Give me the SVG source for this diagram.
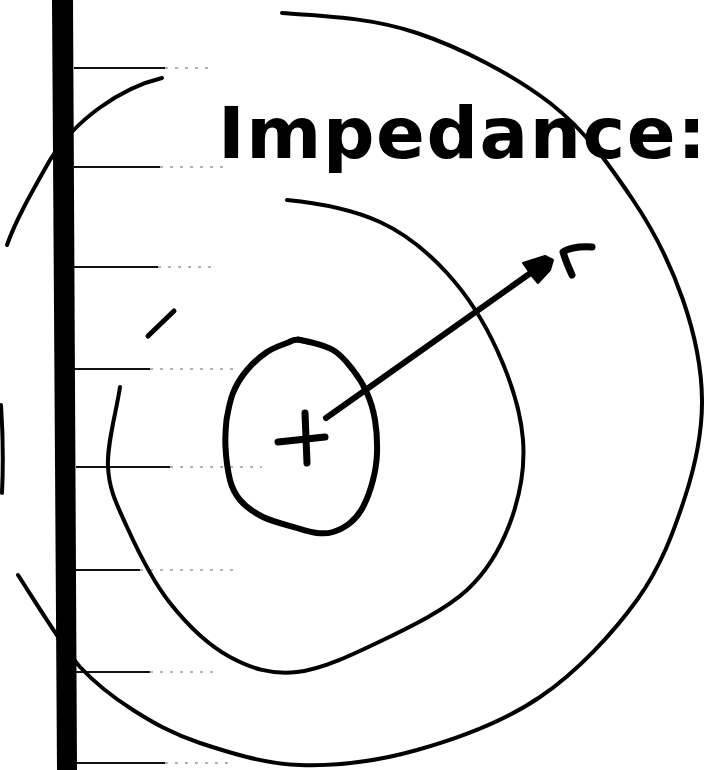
<svg xmlns="http://www.w3.org/2000/svg" width="706" height="770" viewBox="0 0 706 770">
<style>
.ink{fill:none;stroke:#000;stroke-linecap:round;stroke-linejoin:round}
.rule{stroke:#111;stroke-width:2}
.fade{stroke:#999;stroke-width:1.5;stroke-dasharray:3 7}
.label{font-family:"DejaVu Sans","Liberation Sans",sans-serif;font-weight:bold;fill:#000}
</style>
<rect width="706" height="770" fill="#fff"/>
<g id="ruled-lines">
<path class="rule" d="M74,68H165M74,167H160M74,267H158M74,369H150M76,467H170M76,570H140M76,672H150M77,763H165"/>
<path class="fade" d="M165,68H210M160,167H225M158,267H212M150,369H240M170,467H262M140,570H238M150,672H215M165,763H230"/>
</g>
<g id="margin-bar">
<polygon points="52,0 73,0 77,770 57,770" fill="#000"/>
</g>
<g id="outer-circle" class="ink" stroke-width="4">
<path d="M282,13 C327,16 372.3,18 417,33 C461.7,48 514,75.2 550,103 C586,130.8 610.8,167.2 633,200 C655.2,232.8 671.5,266.7 683,300 C694.5,333.3 701.7,367.2 702,400 C702.3,432.8 695.8,463.7 685,497 C674.2,530.3 661.2,566.7 637,600 C612.8,633.3 577.2,672 540,697 C503.3,722 457,738.7 417,750 C377,761.3 336.2,766.2 300,765 C263.8,763.8 227.8,752.2 200,743 C172.2,733.8 153,722.7 133,710 C113,697.3 96,684 80,667 C65,650 38,606 18,575"/>
<path d="M162,78 C120,88 75,120 50,160 C30,195 15,222 7,245"/>
<path d="M1,405 Q4,450 2,493"/>
</g>
<g id="middle-circle" class="ink" stroke-width="4">
<path d="M287,200 C318,203 353.3,209.8 380,222 C406.7,234.2 427.5,251.7 447,273 C466.5,294.3 484.3,322.2 497,350 C509.7,377.8 520.8,411.2 523,440 C525.2,468.8 519.3,498 510,523 C500.7,548 488.2,570.5 467,590 C445.8,609.5 411.3,626.3 383,640 C354.7,653.7 322.5,669.2 297,672 C271.5,674.8 251.2,668.5 230,657 C208.8,645.5 187.2,624.7 170,603 C152.8,581.3 137.3,549.7 127,527 C116.7,504.3 109.2,490.3 108,467 C106.8,443.7 116,413.7 120,387"/>
<path d="M148,336 L174,311" stroke-width="5"/>
</g>
<g id="inner-circle" class="ink" stroke-width="6">
<path d="M300,340 C307.7,341.2 324.2,345 333,350 C341.8,355 347.3,362.8 353,370 C358.7,377.2 363.3,384.7 367,393 C370.7,401.3 373.3,410 375,420 C376.7,430 377.3,443 377,453 C376.7,463 375.3,471 373,480 C370.7,489 366.8,499.8 363,507 C359.2,514.2 355,518.8 350,523 C345,527.2 338.5,530.3 333,532 C327.5,533.7 323,533.7 317,533 C311,532.3 306,530.7 297,528 C288,525.3 272.5,521.7 263,517 C253.5,512.3 245.2,506.2 240,500 C234.8,493.8 232.2,488.8 230,480 C227.8,471.2 226,457 225.5,447 C225,437 225.5,429 226.5,420 C228,411 229.7,401.3 233,393 C236.3,384.7 241.3,376.8 247,370 C252.7,363.2 260.3,356.5 267,352 C273.7,347.5 281.5,345 287,343 C292.5,341 292.3,338.8 300,340 Z"/>
<path d="M298,339 L308,342" stroke-width="5"/>
</g>
<g id="center-cross" class="ink" stroke-width="7">
<path d="M305,413 L307,463 M278,442 L325,437"/>
</g>
<g id="connectors">
<path class="ink" stroke-width="6" d="M326,418 L532,272"/>
<polygon points="523,263 545,256 553,260 550,270 538,283 532,276" fill="#000" stroke="#000" stroke-width="2" stroke-linejoin="round"/>
</g>
<g id="label-r" class="ink" stroke-width="7">
<path d="M572,275 Q566,262 563,252 Q572,246 592,247"/>
</g>
<g id="title">
<text class="label" x="218" y="158" font-size="72" textLength="488" lengthAdjust="spacing">Impedance:</text>
</g>
</svg>
